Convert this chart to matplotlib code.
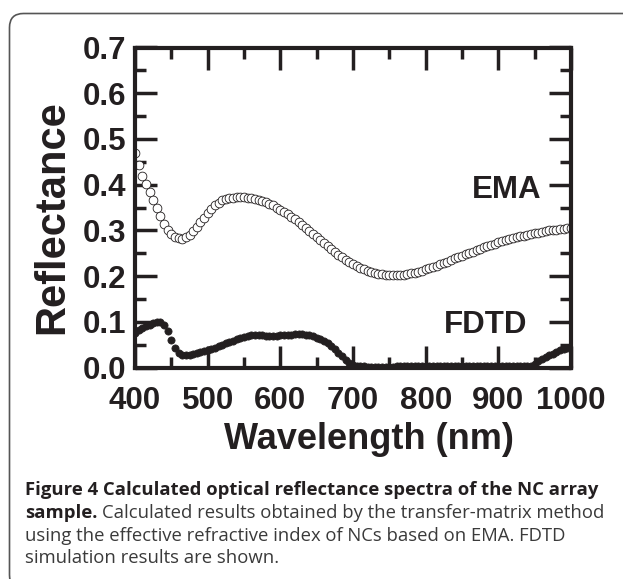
import matplotlib

matplotlib.use("Agg")
import matplotlib.pyplot as plt
import matplotlib.patches as mpatches
import numpy as np
from matplotlib.ticker import FormatStrFormatter, MultipleLocator

# data (5 nm grid)
wavelength = np.arange(400, 1001, 5)
ema = [
    0.470, 0.443, 0.420, 0.402, 0.385, 0.367, 0.350, 0.332, 0.315, 0.302,
    0.292, 0.286, 0.283, 0.282, 0.285, 0.291, 0.299, 0.308, 0.318, 0.328,
    0.338, 0.347, 0.355, 0.361, 0.366, 0.369, 0.371, 0.372, 0.373, 0.373,
    0.373, 0.372, 0.371, 0.369, 0.367, 0.365, 0.362, 0.358, 0.355, 0.350,
    0.345, 0.340, 0.335, 0.330, 0.324, 0.318, 0.312, 0.306, 0.299, 0.292,
    0.286, 0.279, 0.272, 0.266, 0.259, 0.253, 0.247, 0.241, 0.236, 0.231,
    0.227, 0.223, 0.219, 0.215, 0.212, 0.209, 0.207, 0.205, 0.204, 0.203,
    0.202, 0.202, 0.202, 0.202, 0.203, 0.204, 0.206, 0.208, 0.210, 0.212,
    0.215, 0.217, 0.220, 0.223, 0.226, 0.229, 0.232, 0.235, 0.239, 0.242,
    0.245, 0.248, 0.251, 0.254, 0.257, 0.260, 0.263, 0.265, 0.268, 0.271,
    0.274, 0.276, 0.279, 0.281, 0.283, 0.285, 0.287, 0.289, 0.291, 0.292,
    0.294, 0.295, 0.297, 0.298, 0.300, 0.301, 0.302, 0.303, 0.304, 0.305,
    0.305,
]
fdtd = [
    0.076, 0.082, 0.087, 0.091, 0.094, 0.098, 0.100, 0.099, 0.094, 0.080,
    0.060, 0.043, 0.033, 0.028, 0.027, 0.028, 0.030, 0.033, 0.035, 0.037,
    0.039, 0.041, 0.044, 0.047, 0.050, 0.053, 0.056, 0.059, 0.062, 0.065,
    0.068, 0.070, 0.071, 0.072, 0.072, 0.071, 0.070, 0.070, 0.070, 0.070,
    0.071, 0.071, 0.072, 0.072, 0.073, 0.073, 0.073, 0.072, 0.071, 0.069,
    0.066, 0.062, 0.058, 0.053, 0.047, 0.040, 0.033, 0.025, 0.017, 0.010,
    0.006, 0.004, 0.003, 0.003, 0.002, 0.002, 0.002, 0.002, 0.002, 0.002,
    0.002, 0.002, 0.003, 0.003, 0.003, 0.003, 0.003, 0.003, 0.003, 0.003,
    0.003, 0.003, 0.003, 0.003, 0.003, 0.003, 0.003, 0.003, 0.003, 0.003,
    0.003, 0.003, 0.003, 0.003, 0.003, 0.003, 0.003, 0.003, 0.003, 0.003,
    0.003, 0.003, 0.003, 0.003, 0.003, 0.003, 0.003, 0.003, 0.003, 0.004,
    0.008, 0.014, 0.019, 0.023, 0.027, 0.031, 0.035, 0.038, 0.041, 0.044,
    0.046,
]

caption_title = "Figure 4 Calculated optical reflectance spectra of the NC array"
caption_bold = "sample."
caption_rest = [
    "Calculated results obtained by the transfer-matrix method",
    "using the effective refractive index of NCs based on EMA. FDTD",
    "simulation results are shown.",
]

INK = "#231f20"
W, H = 623, 579

plt.rcParams["font.family"] = "Liberation Sans"
plt.rcParams["font.weight"] = "bold"

fig = plt.figure(figsize=(W / 100, H / 100), dpi=100)
fig.patch.set_facecolor("white")

# rounded frame round the whole figure (runs off the right/bottom edge)
frame = mpatches.FancyBboxPatch(
    (9.5, -10), 700, 575.5,
    boxstyle="round,pad=0,rounding_size=14",
    transform=None, fill=False, ec="#555555", lw=1.2,
)
fig.add_artist(frame)

ax = fig.add_axes([135 / W, 1 - 367.7 / H, 436 / W, 320.2 / H])
ax.plot(wavelength, ema, ls="none", marker="o", ms=6.3,
        mfc="white", mec=INK, mew=0.6)
ax.plot(wavelength, fdtd, ls="none", marker="o", ms=5.2,
        mfc=INK, mec=INK, mew=0.5)

ax.set_xlim(400, 1000)
ax.set_ylim(0, 0.7)
ax.xaxis.set_major_locator(MultipleLocator(100))
ax.xaxis.set_minor_locator(MultipleLocator(50))
ax.yaxis.set_major_locator(MultipleLocator(0.1))
ax.yaxis.set_minor_locator(MultipleLocator(0.05))
ax.yaxis.set_major_formatter(FormatStrFormatter("%.1f"))
ax.tick_params(which="both", direction="in", top=True, right=True,
               color=INK, labelcolor=INK, labelsize=22.5)
ax.tick_params(which="major", length=16, width=2.5)
ax.tick_params(which="minor", length=8, width=2.5)
ax.tick_params(axis="x", pad=13)
ax.tick_params(axis="y", pad=6)
for sp in ax.spines.values():
    sp.set_linewidth(3)
    sp.set_color(INK)

ax.text(960, 0.371, "EMA", ha="right", va="baseline", fontsize=22.5, color=INK)
ax.text(939.5, 0.0755, "FDTD", ha="right", va="baseline", fontsize=22.5, color=INK)

fig.text(52 / W, 1 - 217 / H, "Reflectance", rotation=90, ha="center",
         va="center", fontsize=30, color=INK)
fig.text(369 / W, 1 - 449 / H, "Wavelength (nm)", ha="center",
         va="baseline", fontsize=26, color=INK)

# caption
cap_x = 25
cap_size = 13.3
baselines = [495.3, 518, 540.7, 563.3]
fig.text(cap_x / W, 1 - baselines[0] / H, caption_title, family="Open Sans",
         weight="bold", fontsize=cap_size, color=INK, va="baseline")
t = fig.text(cap_x / W, 1 - baselines[1] / H, caption_bold, family="Open Sans",
             weight="bold", fontsize=cap_size, color=INK, va="baseline")
x_end = t.get_window_extent(fig.canvas.get_renderer()).x1
fig.text((x_end + 5) / W, 1 - baselines[1] / H, caption_rest[0], family="Open Sans",
         weight="normal", fontsize=cap_size, color="#3a3a3a", va="baseline")
for line, b in zip(caption_rest[1:], baselines[2:]):
    fig.text(cap_x / W, 1 - b / H, line, family="Open Sans", weight="normal",
             fontsize=cap_size, color="#3a3a3a", va="baseline")

fig.savefig("out.png", dpi=100)
